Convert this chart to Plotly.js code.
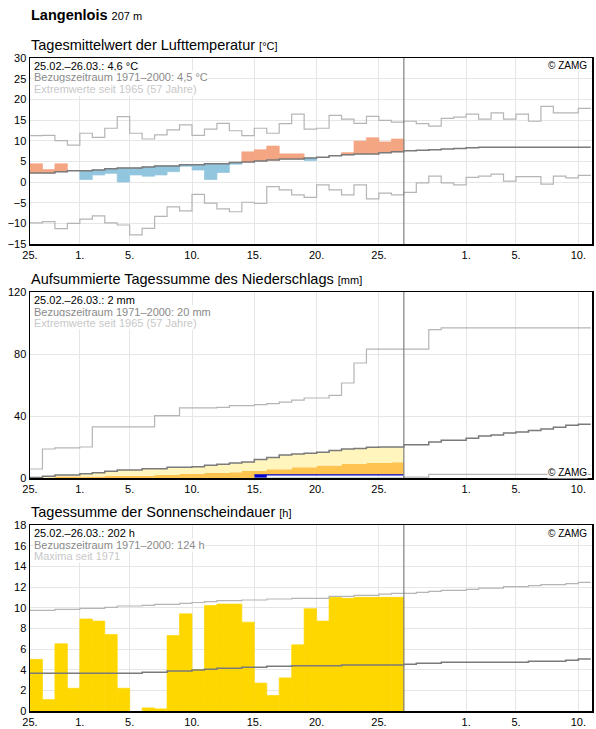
<!DOCTYPE html>
<html>
<head>
<meta charset="utf-8">
<script src="https://cdn.plot.ly/plotly-3.0.1.min.js"></script>
<style>
  html, body { margin: 0; padding: 0; background: #fff; }
  #chart { width: 596px; height: 729px; }
</style>
</head>
<body>
<div id="chart"></div>
<script>
// Day index 0 = 25 Feb 2022; measured period covers days 0–29 (25.02.–26.03.)
const tickDays   = [0, 4, 8, 13, 18, 23, 28, 35, 39, 44];
const tickLabels = ['25.', '1.', '5.', '10.', '15.', '20.', '25.', '1.', '5.', '10.'];
const todayBoundary = 30;

// ---- Daily mean air temperature (°C) ----
const tempDaily = [4.4, 3.0, 4.4, 2.7, 0.6, 1.7, 2.1, 0.0, 1.7, 1.4,
                   1.7, 2.5, 3.8, 2.9, 0.6, 2.3, 4.3, 7.3, 7.8, 8.7,
                   6.8, 6.8, 5.2, 6.0, 6.35, 7.1, 9.9, 10.7, 9.7, 10.4];
const tempNormal = [2.2, 2.2, 2.5, 2.7, 2.7, 2.9, 3.2, 3.4, 3.4, 3.65,
                    3.9, 3.9, 4.2, 4.2, 4.4, 4.4, 4.7, 4.85, 5.1, 5.3,
                    5.55, 5.55, 5.8, 6.0, 6.35, 6.6, 6.8, 6.8, 7.1, 7.3,
                    7.55, 7.7, 7.8, 8.0, 8.1, 8.3, 8.4, 8.4, 8.4, 8.4,
                    8.4, 8.4, 8.4, 8.4, 8.4];
const tempMax = [11.2, 11.3, 10.0, 8.9, 11.8, 10.8, 13.0, 15.8, 11.8, 10.4,
                 11.4, 12.6, 13.8, 11.3, 12.8, 14.2, 12.4, 11.2, 13.0, 11.8,
                 14.1, 16.4, 12.8, 13.0, 16.1, 15.2, 14.2, 15.9, 14.9, 14.5,
                 14.7, 14.1, 13.5, 15.4, 15.7, 16.4, 15.2, 16.7, 15.2, 16.4,
                 14.7, 18.3, 16.7, 16.7, 17.8];
const tempMin = [-9.9, -9.6, -11.3, -10.0, -9.0, -8.2, -9.9, -10.4, -12.8, -11.2,
                 -8.3, -6.0, -7.0, -3.0, -5.1, -6.5, -7.2, -4.9, -5.2, -1.1,
                 -1.9, -3.1, -3.7, -0.7, -1.9, -3.1, -0.7, -4.1, -2.7, -3.1,
                 -2.5, -0.2, 1.4, -0.2, -0.7, 1.1, 1.4, 1.9, 0.2, 1.3,
                 1.3, -0.5, 1.4, 1.0, 1.6];

// ---- Accumulated precipitation (mm) ----
const precipDaily = [0, 0, 0, 0, 0, 0, 0, 0, 0, 0,
                     0, 0, 0, 0, 0, 0, 0, 0, 2.0, 0,
                     0, 0, 0, 0, 0, 0, 0, 0, 0, 0];
const precipHalf = [0.2, 0.2, 0.9, 0.9, 0.9, 0.9, 1.5, 1.5, 1.5, 1.5,
                    1.9, 1.9, 2.8, 2.8, 3.2, 3.2, 3.7, 4.7, 4.7, 5.6,
                    5.6, 6.9, 6.9, 8.0, 8.0, 9.0, 9.0, 9.7, 9.7, 10.1];
const precipNormal = [0.4, 1.1, 1.9, 1.9, 2.8, 3.4, 4.3, 5.2, 5.2, 6.0,
                      6.0, 6.9, 6.9, 7.3, 8.2, 8.8, 9.7, 10.3, 12.0, 13.3,
                      14.8, 15.5, 15.9, 16.6, 17.8, 18.7, 19.1, 19.8, 20.0, 20.0,
                      21.5, 21.5, 23.2, 24.3, 24.3, 25.6, 27.1, 27.7, 29.0, 29.7,
                      30.7, 31.6, 32.7, 34.0, 34.6];
const precipMax = [5.8, 18.7, 19.4, 19.4, 20.0, 33.0, 33.0, 33.0, 33.0, 33.0,
                   40.2, 40.2, 45.2, 45.2, 45.2, 45.6, 46.7, 46.7, 47.3, 48.0,
                   49.0, 50.2, 51.6, 51.6, 53.3, 61.3, 74.2, 83.2, 83.2, 83.2,
                   83.2, 83.2, 95.7, 96.8, 96.8, 96.8, 96.8, 96.8, 96.8, 96.8,
                   96.8, 96.8, 96.8, 96.8, 96.8];
const precipMin = [0, 0, 0, 0, 0, 0, 0, 0, 0, 0,
                   0, 0, 0, 0, 0, 0, 0, 0, 0, 0,
                   0, 0, 0, 0, 0, 0, 0, 0, 0, 0,
                   0.6, 0.6, 2.4, 2.4, 2.4, 2.4, 2.4, 2.4, 2.4, 2.4,
                   2.4, 2.4, 2.4, 2.4, 2.4];

// ---- Daily sunshine duration (h) ----
const sunDaily = [5.0, 1.1, 6.5, 2.2, 8.9, 8.7, 7.4, 2.2, 0.0, 0.3,
                  0.2, 7.3, 9.4, 4.0, 10.2, 10.35, 10.35, 8.6, 2.7, 1.5,
                  3.2, 6.4, 9.9, 8.7, 11.0, 10.9, 11.0, 11.0, 11.0, 11.0];
const sunNormal = [3.65, 3.65, 3.65, 3.65, 3.65, 3.65, 3.65, 3.65, 3.65, 3.75,
                   3.75, 3.87, 3.87, 3.97, 4.03, 4.13, 4.13, 4.23, 4.23, 4.32,
                   4.32, 4.38, 4.38, 4.38, 4.38, 4.45, 4.45, 4.45, 4.45, 4.45,
                   4.52, 4.61, 4.61, 4.71, 4.71, 4.71, 4.71, 4.71, 4.71, 4.71,
                   4.81, 4.81, 4.81, 4.9, 5.03];
const sunMax = [9.74, 9.74, 9.84, 9.84, 9.94, 9.94, 10.03, 10.16, 10.16, 10.23,
                10.32, 10.32, 10.42, 10.5, 10.58, 10.68, 10.68, 10.74, 10.74, 10.84,
                10.84, 10.9, 10.9, 10.9, 11.1, 11.1, 11.19, 11.19, 11.32, 11.39,
                11.39, 11.48, 11.58, 11.68, 11.68, 11.77, 11.9, 11.9, 12.03, 12.03,
                12.13, 12.23, 12.23, 12.32, 12.45];

// ---------------------------------------------------------------
const FONT = 'Arial, "Liberation Sans", Helvetica, sans-serif';
const C_NORMAL = '#7a7a7a';
const C_EXTREME = '#b5b5b5';
const C_WARM = '#f4a582';
const C_COLD = '#92c5de';
const C_SUN = '#ffd700';
const C_OBS = '#0000d0';

// Step series: each value holds for one whole day
function step(values) {
  const x = values.map((_, i) => i);
  x.push(values.length);
  const y = values.slice();
  y.push(values[values.length - 1]);
  return { x, y };
}
function stepLine(values, color, width, xa, ya, extra) {
  const s = step(values);
  return Object.assign({
    type: 'scatter', mode: 'lines', x: s.x, y: s.y,
    line: { color, width, shape: 'hv' },
    xaxis: xa, yaxis: ya, hoverinfo: 'skip'
  }, extra || {});
}
const dayIdx = n => Array.from({ length: n }, (_, i) => i);
// a thin outline in the fill colour closes the anti-aliasing seams between adjacent day bars
const seam = (vals, colors) => ({
  color: colors,
  width: vals.map(v => (Math.abs(v) > 0 ? 0.7 : 0))
});

const traces = [];

// Panel 1: temperature
traces.push(stepLine(tempMax, C_EXTREME, 1.2, 'x', 'y'));
traces.push(stepLine(tempMin, C_EXTREME, 1.2, 'x', 'y'));
{
  const diff = tempDaily.map((v, i) => v - tempNormal[i]);
  const cols = diff.map(d => (d >= 0 ? C_WARM : C_COLD));
  traces.push({
    type: 'bar', x: dayIdx(tempDaily.length),
    base: tempDaily.map((v, i) => tempNormal[i]),
    y: diff, width: 1, offset: 0,
    marker: { color: cols, line: seam(diff, cols) },
    xaxis: 'x', yaxis: 'y', hoverinfo: 'skip'
  });
}
traces.push(stepLine(tempNormal, C_NORMAL, 1.5, 'x', 'y'));

// Panel 2: precipitation
const precipCum = [];
precipDaily.reduce((acc, v) => { const s = acc + v; precipCum.push(s); return s; }, 0);
traces.push(stepLine(precipMax, C_EXTREME, 1.2, 'x2', 'y2'));
traces.push(stepLine(precipMin, C_EXTREME, 1.2, 'x2', 'y2'));
traces.push(stepLine(precipCum, 'rgba(0,0,0,0)', 0, 'x2', 'y2'));
traces.push(stepLine(precipHalf, 'rgba(0,0,0,0)', 0, 'x2', 'y2', { fill: 'tonexty', fillcolor: '#fec44f' }));
traces.push(stepLine(precipNormal.slice(0, precipDaily.length), 'rgba(0,0,0,0)', 0, 'x2', 'y2', { fill: 'tonexty', fillcolor: '#fff5bd' }));
traces.push({
  type: 'bar', x: dayIdx(precipDaily.length), y: precipDaily,
  width: 1, offset: 0, marker: { color: C_OBS, line: { width: 0 } },
  xaxis: 'x2', yaxis: 'y2', hoverinfo: 'skip'
});
traces.push(stepLine(precipNormal, C_NORMAL, 1.5, 'x2', 'y2'));
{
  const s = step(precipCum);
  const first = precipCum.findIndex(v => v > 0);
  traces.push({
    type: 'scatter', mode: 'lines', x: s.x.slice(first), y: s.y.slice(first),
    line: { color: C_OBS, width: 1.3, shape: 'hv' }, xaxis: 'x2', yaxis: 'y2', hoverinfo: 'skip'
  });
}

// Panel 3: sunshine
traces.push({
  type: 'bar', x: dayIdx(sunDaily.length), y: sunDaily,
  width: 1, offset: 0,
  marker: { color: C_SUN, line: seam(sunDaily, C_SUN) },
  xaxis: 'x3', yaxis: 'y3', hoverinfo: 'skip'
});
traces.push(stepLine(sunMax, C_EXTREME, 1.2, 'x3', 'y3'));
traces.push(stepLine(sunNormal, C_NORMAL, 1.5, 'x3', 'y3'));

// ---------------------------------------------------------------
const W = 596, H = 729;
const M = { l: 30, r: 4, t: 58, b: 18 };
const plotH = H - M.t - M.b;
const py = p => (H - M.b - p) / plotH;        // pixel row -> paper y
const px = p => (p - M.l) / (W - M.l - M.r);  // pixel column -> paper x

const panels = [
  { top: 58,  bottom: 244 },
  { top: 292, bottom: 478 },
  { top: 525, bottom: 711 }
];

const xBase = {
  range: [0, 45.1], tickmode: 'array', tickvals: tickDays, ticktext: tickLabels,
  showgrid: true, gridcolor: '#e6e6e6', gridwidth: 1,
  showline: true, mirror: true, linecolor: '#000', linewidth: 1.5,
  ticks: '', zeroline: false, fixedrange: true,
  tickfont: { family: FONT, size: 11, color: '#000' }
};
const yBase = {
  showgrid: true, gridcolor: '#e6e6e6', gridwidth: 1,
  showline: true, mirror: true, linecolor: '#000', linewidth: 1.5,
  ticks: '', zeroline: false, fixedrange: true, tickmode: 'linear',
  tickfont: { family: FONT, size: 11, color: '#000' }
};

const annotations = [];
function txt(text, xPix, yPix, opts) {
  annotations.push(Object.assign({
    text, xref: 'paper', yref: 'paper', x: px(xPix), y: py(yPix),
    xanchor: 'left', yanchor: 'middle', showarrow: false,
    font: { family: FONT, size: 11, color: '#000' }, borderpad: 0
  }, opts || {}));
}

txt('<b>Langenlois</b> <span style="font-size:11px">207 m</span>', 30, 15, { font: { family: FONT, size: 14.5, color: '#000' } });

const titles = [
  'Tagesmittelwert der Lufttemperatur <span style="font-size:11px">[°C]</span>',
  'Aufsummierte Tagessumme des Niederschlags <span style="font-size:11px">[mm]</span>',
  'Tagessumme der Sonnenscheindauer <span style="font-size:11px">[h]</span>'
];
const info = [
  ['25.02.–26.03.: 4,6 °C', 'Bezugszeitraum 1971–2000: 4,5 °C', 'Extremwerte seit 1965 (57 Jahre)'],
  ['25.02.–26.03.: 2 mm', 'Bezugszeitraum 1971–2000: 20 mm', 'Extremwerte seit 1965 (57 Jahre)'],
  ['25.02.–26.03.: 202 h', 'Bezugszeitraum 1971–2000: 124 h', 'Maxima seit 1971']
];
const infoColors = ['#000', '#8a8a8a', '#c8c8c8'];
const zamgY = [66, 472.5, 533.5];

panels.forEach((p, k) => {
  txt(titles[k], 30, p.top - 13, { font: { family: FONT, size: 14.5, color: '#000' } });
  info[k].forEach((line, j) => {
    txt(line, 33, p.top + 8 + j * 11.5, { font: { family: FONT, size: 11, color: infoColors[j] }, bgcolor: '#fff' });
  });
  txt('© ZAMG', 588, zamgY[k], { xanchor: 'right', font: { family: FONT, size: 10, color: '#000' }, bgcolor: '#fff' });
});

const shapes = ['', '2', '3'].map(s => ({
  type: 'line', xref: 'x' + s, yref: 'y' + s + ' domain',
  x0: todayBoundary, x1: todayBoundary, y0: 0, y1: 1,
  line: { color: '#808080', width: 1.2 }, layer: 'above'
}));

const layout = {
  width: W, height: H, margin: M,
  paper_bgcolor: '#fff', plot_bgcolor: '#fff',
  showlegend: false, barmode: 'overlay',
  font: { family: FONT, size: 11, color: '#000' },
  xaxis:  Object.assign({}, xBase, { anchor: 'y' }),
  xaxis2: Object.assign({}, xBase, { anchor: 'y2' }),
  xaxis3: Object.assign({}, xBase, { anchor: 'y3' }),
  yaxis:  Object.assign({}, yBase, { domain: [py(panels[0].bottom), py(panels[0].top)], range: [-15, 30], tick0: 0, dtick: 5 }),
  yaxis2: Object.assign({}, yBase, { domain: [py(panels[1].bottom), py(panels[1].top)], range: [0, 120], tick0: 0, dtick: 40 }),
  yaxis3: Object.assign({}, yBase, { domain: [py(panels[2].bottom), py(panels[2].top)], range: [0, 18], tick0: 0, dtick: 2 }),
  annotations, shapes
};

Plotly.newPlot('chart', traces, layout, { staticPlot: true, displayModeBar: false });
</script>
</body>
</html>
